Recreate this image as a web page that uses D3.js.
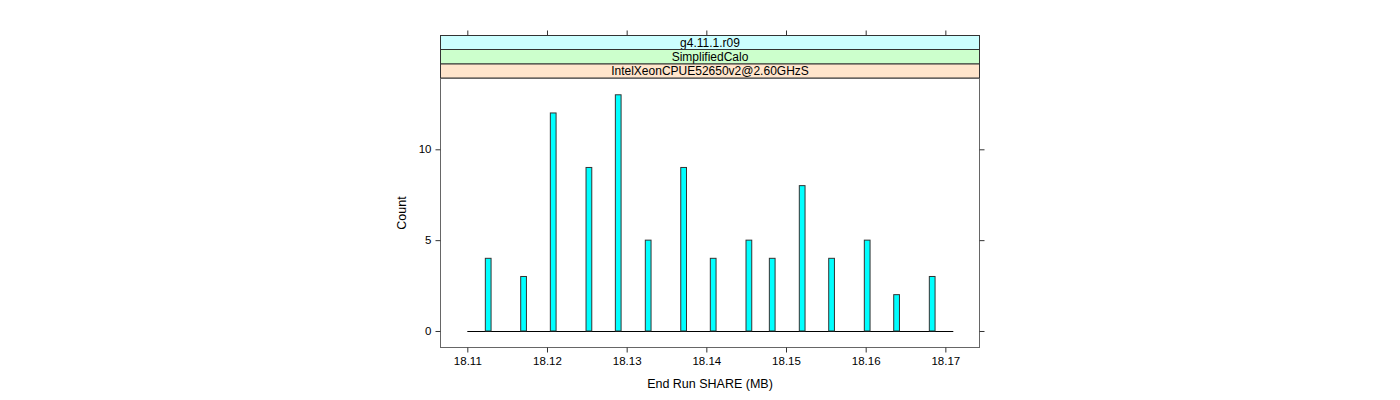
<!DOCTYPE html>
<html>
<head>
<meta charset="utf-8">
<script src="https://cdn.jsdelivr.net/npm/d3@7"></script>
<style>
  html, body { margin: 0; padding: 0; background: #fff; }
  svg { display: block; font-family: "Liberation Sans", Arial, Helvetica, sans-serif; color: #000; }
</style>
</head>
<body>
<svg id="chart" width="1400" height="400"></svg>
<script>
// ---- data ----
const binLefts = [18.11226, 18.11670, 18.12042, 18.12490, 18.12858, 18.13234, 18.13679, 18.14050,
                  18.14498, 18.14791, 18.15167, 18.15536, 18.15983, 18.16352, 18.16799];
const counts   = [4, 3, 12, 9, 13, 5, 9, 4, 5, 4, 8, 4, 5, 2, 3];
const binWidth = 0.00072;
const baseRange = [18.11, 18.1710];
const xTicks = [18.11, 18.12, 18.13, 18.14, 18.15, 18.16, 18.17];
const yTicks = [0, 5, 10];
const stripLabels = ["g4.11.1.r09", "SimplifiedCalo", "IntelXeonCPUE52650v2@2.60GHzS"];
const stripColors = ["#ccffff", "#ccffcc", "#ffe5cc"];
const xLabel = "End Run SHARE (MB)";
const yLabel = "Count";

// ---- layout ----
const L = 440, R = 980, T = 78, B = 348;
const stripTops = [35.5, 49.5, 64];
const stripBottoms = [49.5, 64, 78];

const svg = d3.select("#chart");
const x = d3.scaleLinear().domain([18.10657, 18.17435]).range([L, R]);
const y = d3.scaleLinear().domain([-0.936, 13.924]).range([B, T]);

// strips
stripLabels.forEach((lab, i) => {
  svg.append("rect")
    .attr("x", L + 0.5).attr("y", stripTops[i])
    .attr("width", R - L - 1).attr("height", stripBottoms[i] - stripTops[i])
    .attr("fill", stripColors[i]).attr("stroke", "#333").attr("stroke-width", 1);
  svg.append("text")
    .attr("x", (L + R) / 2).attr("y", (stripTops[i] + stripBottoms[i]) / 2 + 4.3)
    .attr("text-anchor", "middle").attr("font-size", 12).attr("fill", "#000")
    .text(lab);
});

// panel border
svg.append("rect")
  .attr("x", L + 0.5).attr("y", T + 0.5)
  .attr("width", R - L - 1).attr("height", B - T - 1)
  .attr("fill", "none").attr("stroke", "#666").attr("stroke-width", 1);

// bottom axis
const xAxisB = d3.axisBottom(x).tickValues(xTicks).tickSize(5).tickPadding(4)
  .tickFormat(d3.format(".2f"));
const gxb = svg.append("g").attr("color", "#000").attr("transform", `translate(0,${B - 0.5})`).call(xAxisB);
gxb.select(".domain").remove();
gxb.selectAll("line").attr("stroke", "#333");
gxb.selectAll("text").attr("font-size", 11.5).attr("fill", "#000")
  .attr("font-family", "Liberation Sans, Arial, sans-serif");

// top axis ticks (no labels)
const xAxisT = d3.axisTop(x).tickValues(xTicks).tickSize(5).tickFormat("");
const gxt = svg.append("g").attr("color", "#000").attr("transform", `translate(0,${stripTops[0]})`).call(xAxisT);
gxt.select(".domain").remove();
gxt.selectAll("line").attr("stroke", "#333");

// left axis
const yAxisL = d3.axisLeft(y).tickValues(yTicks).tickSize(5).tickPadding(4).tickFormat(d3.format("d"));
const gyl = svg.append("g").attr("color", "#000").attr("transform", `translate(${L + 0.5},0)`).call(yAxisL);
gyl.select(".domain").remove();
gyl.selectAll("line").attr("stroke", "#333");
gyl.selectAll("text").attr("font-size", 11.5).attr("fill", "#000")
  .attr("font-family", "Liberation Sans, Arial, sans-serif");

// right axis ticks
const yAxisR = d3.axisRight(y).tickValues(yTicks).tickSize(5).tickFormat("");
const gyr = svg.append("g").attr("color", "#000").attr("transform", `translate(${R - 0.5},0)`).call(yAxisR);
gyr.select(".domain").remove();
gyr.selectAll("line").attr("stroke", "#333");

// baseline (zero-count bins)
svg.append("line")
  .attr("x1", x(baseRange[0])).attr("x2", x(baseRange[1]))
  .attr("y1", Math.round(y(0)) + 0.5).attr("y2", Math.round(y(0)) + 0.5)
  .attr("stroke", "#000").attr("stroke-width", 1);

// bars
svg.append("g").selectAll("rect")
  .data(binLefts.map((l, i) => ({ l, c: counts[i] })))
  .join("rect")
  .attr("x", d => x(d.l))
  .attr("width", d => x(d.l + binWidth) - x(d.l))
  .attr("y", d => y(d.c))
  .attr("height", d => y(0) - y(d.c))
  .attr("fill", "#00ffff")
  .attr("stroke", "#333")
  .attr("stroke-width", 1);

// axis titles
svg.append("text")
  .attr("x", (L + R) / 2).attr("y", 388)
  .attr("text-anchor", "middle").attr("font-size", 12.5).attr("fill", "#000")
  .text(xLabel);
svg.append("text")
  .attr("transform", `translate(406,${(T + B) / 2}) rotate(-90)`)
  .attr("text-anchor", "middle").attr("font-size", 12.5).attr("fill", "#000")
  .text(yLabel);
</script>
</body>
</html>
